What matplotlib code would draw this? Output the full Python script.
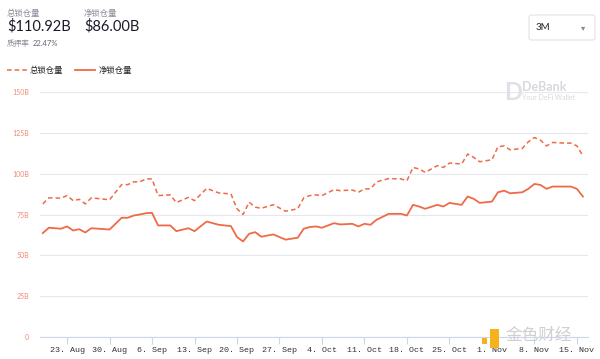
import matplotlib
matplotlib.use("Agg")
import matplotlib.pyplot as plt
import matplotlib.dates as mdates
from matplotlib.patches import FancyBboxPatch, Rectangle
import pandas as pd

plt.rcParams["font.family"] = ["Lato", "Noto Sans CJK SC", "DejaVu Sans"]

# data (billions USD)
dates = ["2021-08-19", "2021-08-20", "2021-08-22", "2021-08-23", "2021-08-24", "2021-08-25",
         "2021-08-26", "2021-08-27", "2021-08-30", "2021-09-01", "2021-09-02", "2021-09-03",
         "2021-09-04", "2021-09-05", "2021-09-06", "2021-09-07", "2021-09-09", "2021-09-10",
         "2021-09-12", "2021-09-13", "2021-09-15", "2021-09-17", "2021-09-19", "2021-09-20",
         "2021-09-21", "2021-09-22", "2021-09-23", "2021-09-24", "2021-09-26", "2021-09-28",
         "2021-09-30", "2021-10-01", "2021-10-02", "2021-10-03", "2021-10-04", "2021-10-06",
         "2021-10-07", "2021-10-09", "2021-10-10", "2021-10-11", "2021-10-12", "2021-10-13",
         "2021-10-15", "2021-10-17", "2021-10-18", "2021-10-19", "2021-10-20", "2021-10-21",
         "2021-10-23", "2021-10-24", "2021-10-25", "2021-10-27", "2021-10-28", "2021-10-29",
         "2021-10-30", "2021-11-01", "2021-11-02", "2021-11-03", "2021-11-04", "2021-11-06",
         "2021-11-07", "2021-11-08", "2021-11-09", "2021-11-10", "2021-11-11", "2021-11-13",
         "2021-11-14", "2021-11-15", "2021-11-16"]
total_locked = [81.5, 85.2, 85.0, 86.6, 83.5, 84.3, 81.5, 85.2, 84.0, 93.3, 93.3, 95.0,
                95.0, 96.8, 96.8, 86.6, 87.0, 82.3, 85.5, 83.5, 91.0, 88.2, 87.6, 78.5,
                75.0, 82.5, 79.5, 78.8, 81.0, 77.0, 78.5, 85.2, 86.6, 87.0, 86.6, 90.2,
                89.6, 90.0, 88.6, 90.7, 90.7, 95.0, 97.0, 96.8, 95.7, 103.8, 102.9, 100.8,
                104.9, 103.8, 106.5, 105.9, 112.0, 110.0, 107.3, 108.5, 116.5, 117.0, 114.6, 115.4,
                119.5, 122.1, 120.5, 117.0, 119.1, 118.7, 118.7, 117.0, 110.92]
net_locked = [63.6, 66.9, 66.3, 67.7, 65.2, 66.0, 64.0, 66.6, 65.8, 73.0, 73.0, 74.4,
              75.0, 75.8, 76.0, 68.3, 68.3, 64.8, 66.6, 64.8, 70.7, 68.7, 67.9, 61.2,
              58.5, 63.2, 64.2, 61.4, 62.8, 59.6, 60.8, 66.3, 67.3, 67.7, 66.9, 69.7,
              68.9, 69.3, 67.7, 69.3, 68.7, 71.8, 75.4, 75.4, 74.4, 80.9, 79.9, 78.5,
              80.9, 79.9, 82.1, 80.9, 86.0, 84.6, 82.1, 82.9, 88.6, 89.6, 88.0, 88.6,
              90.7, 93.7, 93.1, 90.7, 92.1, 92.1, 92.1, 90.7, 86.00]
y_ticks = [0, 25, 50, 75, 100, 125, 150]
y_labels = ["0", "25B", "50B", "75B", "100B", "125B", "150B"]

x = pd.to_datetime(dates)
line_color = "#ef6a47"

fig = plt.figure(figsize=(6, 3.59), dpi=100)
ax = fig.add_axes([40 / 600, 22 / 359, 548 / 600, 245 / 359])

ax.plot(x, total_locked, color=line_color, lw=1.1, ls=(0, (3, 2)))
ax.plot(x, net_locked, color=line_color, lw=1.3)

ax.set_ylim(0, 150)
ax.set_xlim(pd.Timestamp("2021-08-18 13:00"), pd.Timestamp("2021-11-16 20:00"))
ax.set_yticks(y_ticks)
ax.set_yticklabels(y_labels)
ax.tick_params(axis="y", length=0, labelsize=5, labelcolor="#f08a78", pad=8)
ax.xaxis.set_major_locator(mdates.WeekdayLocator(byweekday=mdates.MO))
ax.xaxis.set_major_formatter(mdates.DateFormatter("%-d. %b"))
ax.tick_params(axis="x", length=5, color="#ccd6eb", labelsize=6, labelcolor="#333333", pad=2)
for lbl in ax.get_xticklabels():
    lbl.set_fontfamily("Liberation Mono")

ax.grid(axis="y", color="#e6e6ee", lw=0.8)
for s in ["top", "right", "left"]:
    ax.spines[s].set_visible(False)
ax.spines["bottom"].set_color("#ccd6eb")
ax.set_axisbelow(True)

# header
grey = "#8c8c99"
fig.text(7 / 600, 1 - 13 / 359, "总锁仓量", fontsize=6, color=grey, va="center")
fig.text(7 / 600, 1 - 26 / 359, "$110.92B", fontsize=10.5, color="#1a1a2a", va="center")
fig.text(84 / 600, 1 - 13 / 359, "净锁仓量", fontsize=6, color=grey, va="center")
fig.text(84 / 600, 1 - 26 / 359, "$86.00B", fontsize=10.5, color="#1a1a2a", va="center")
fig.text(7 / 600, 1 - 43 / 359, "质押率", fontsize=5.5, color=grey, va="center")
fig.text(33 / 600, 1 - 43 / 359, "22.47%", fontsize=5.5, color="#666677", va="center")

# legend
fig.lines.append(plt.Line2D([7 / 600, 27 / 600], [1 - 70 / 359] * 2, transform=fig.transFigure,
                            color=line_color, lw=1.1, ls=(0, (3, 2))))
fig.text(30 / 600, 1 - 70 / 359, "总锁仓量", fontsize=6, color="#222222", va="center")
fig.lines.append(plt.Line2D([75 / 600, 95 / 600], [1 - 70 / 359] * 2, transform=fig.transFigure,
                            color=line_color, lw=1.3))
fig.text(99 / 600, 1 - 70 / 359, "净锁仓量", fontsize=6, color="#222222", va="center")

# period selector
fig.patches.append(FancyBboxPatch((529 / 600, 1 - 40 / 359), 66 / 600, 25 / 359,
                                  boxstyle="round,pad=0,rounding_size=0.005",
                                  transform=fig.transFigure, fc="white", ec="#e3e3ea", lw=0.8))
fig.text(536 / 600, 1 - 28 / 359, "3M", fontsize=7, color="#222222", va="center")
fig.text(583 / 600, 1 - 28 / 359, "▾", fontsize=6, color="#888888", va="center", ha="center",
         family="DejaVu Sans")

# DeBank watermark
fig.text(522 / 600, 1 - 87 / 359, "DeBank", fontsize=9, color="#d8d8de", va="center", weight="bold")
fig.text(522 / 600, 1 - 98 / 359, "Your DeFi Wallet", fontsize=5, color="#d8d8de", va="center")
fig.text(504 / 600, 1 - 92 / 359, "D", fontsize=17, color="#e0e0e6", va="center", weight="bold")

# 金色财经 watermark
fig.patches.append(Rectangle((482 / 600, 1 - 344 / 359), 5 / 600, 6 / 359,
                             transform=fig.transFigure, fc="#f5b21b", ec="none"))
fig.patches.append(Rectangle((490 / 600, 1 - 348 / 359), 9 / 600, 19 / 359,
                             transform=fig.transFigure, fc="#f5b21b", ec="none"))
fig.text(506 / 600, 1 - 335 / 359, "金色财经", fontsize=12, color="#d0d0d0", va="center",
         family=["Noto Sans CJK SC"])

fig.savefig("out.png", dpi=100)
